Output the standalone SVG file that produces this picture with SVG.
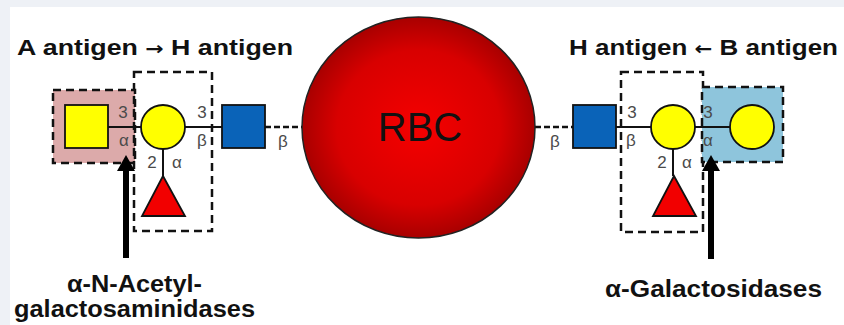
<svg xmlns="http://www.w3.org/2000/svg" width="844" height="325" viewBox="0 0 844 325">
<defs>
<radialGradient id="rbcGrad" cx="0.5" cy="0.5" r="0.5">
<stop offset="0" stop-color="#f50000"/>
<stop offset="0.7" stop-color="#d80000"/>
<stop offset="1" stop-color="#a80000"/>
</radialGradient>
<style>
.title{font-family:"Liberation Sans",Arial,sans-serif;font-weight:bold;font-size:22px;fill:#111}
.arr{font-family:"DejaVu Sans",sans-serif;font-weight:bold;font-size:18px}
.enz{font-family:"Liberation Sans",Arial,sans-serif;font-weight:bold;font-size:23px;fill:#111;text-anchor:middle}
.lbl{font-family:"Liberation Sans",Arial,sans-serif;font-size:17px;fill:#4a4a4a;text-anchor:middle}
.box{stroke:#111;stroke-width:2.5;stroke-dasharray:8 5}
.sym{stroke:#111;stroke-width:1.8}
.bond{stroke:#111;stroke-width:2;fill:none}
.dbond{stroke:#111;stroke-width:2.5;stroke-dasharray:6 3;fill:none}
.gal{fill:#ffff00}
.glcnac{fill:#0a63b8}
.galnac{fill:#ffff00}
.fuc{fill:#f20000}
</style>
</defs>
<rect x="0" y="0" width="844" height="325" fill="#eef1f6"/>
<rect x="10" y="7" width="834" height="318" fill="#ffffff"/>

<g id="title-left"><text class="title" x="17" y="55" textLength="276" lengthAdjust="spacingAndGlyphs">A antigen <tspan class="arr">→</tspan> H antigen</text></g>
<g id="title-right"><text class="title" x="569" y="55" textLength="269" lengthAdjust="spacingAndGlyphs">H antigen <tspan class="arr">←</tspan> B antigen</text></g>

<g id="box-a-left"><rect class="box" x="53" y="90" width="82" height="73" fill="#dcaaaa"/></g>
<g id="box-h-left"><rect class="box" x="134" y="72" width="78" height="159" fill="none"/></g>
<g id="box-h-right"><rect class="box" x="621" y="72" width="82" height="160" fill="none"/></g>
<g id="box-b-right"><rect class="box" x="702" y="87" width="81" height="75" fill="#8ec5dc"/></g>

<g id="connectors">
<line class="bond" x1="108" y1="127" x2="141" y2="127"/>
<line class="bond" x1="185" y1="127" x2="222" y2="127"/>
<line class="bond" x1="163" y1="149" x2="163" y2="176"/>
<line class="dbond" x1="265" y1="127" x2="302" y2="127"/>
<line class="dbond" x1="535" y1="127" x2="573" y2="127"/>
<line class="bond" x1="616" y1="127" x2="651" y2="127"/>
<line class="bond" x1="695" y1="127" x2="730" y2="127"/>
<line class="bond" x1="673" y1="149" x2="673" y2="176"/>
</g>

<g id="rbc">
<ellipse cx="418.5" cy="127.5" rx="116.5" ry="110.5" fill="url(#rbcGrad)" stroke="#222" stroke-width="1.5"/>
<text x="420" y="141" font-family="'Liberation Sans',Arial,sans-serif" font-size="40" fill="#111" text-anchor="middle">RBC</text>
</g>

<g id="galnac-left"><rect class="sym galnac" x="65" y="105" width="43" height="43"/></g>
<g id="gal-left"><circle class="sym gal" cx="163" cy="127" r="22"/></g>
<g id="fuc-left"><polygon class="sym fuc" points="163,176 142,216 185,216"/></g>
<g id="glcnac-left"><rect class="sym glcnac" x="222" y="105" width="43" height="43"/></g>

<g id="glcnac-right"><rect class="sym glcnac" x="573" y="105" width="43" height="43"/></g>
<g id="gal-right"><circle class="sym gal" cx="673" cy="127" r="22"/></g>
<g id="fuc-right"><polygon class="sym fuc" points="674,176 653,216 696,216"/></g>
<g id="gal-b-right"><circle class="sym gal" cx="752" cy="127" r="22"/></g>

<g id="labels">
<text class="lbl" x="123" y="118">3</text>
<text class="lbl" x="124" y="146">α</text>
<text class="lbl" x="202" y="118">3</text>
<text class="lbl" x="202" y="146">β</text>
<text class="lbl" x="152" y="168">2</text>
<text class="lbl" x="177" y="168">α</text>
<text class="lbl" x="283" y="147">β</text>
<text class="lbl" x="555" y="147">β</text>
<text class="lbl" x="632" y="118">3</text>
<text class="lbl" x="631" y="146">β</text>
<text class="lbl" x="662" y="168">2</text>
<text class="lbl" x="687" y="168">α</text>
<text class="lbl" x="708" y="118">3</text>
<text class="lbl" x="708" y="146">α</text>
</g>

<g id="arrow-left">
<rect x="123" y="168" width="6" height="90" fill="#000"/>
<polygon points="126,155 117,171 135,171" fill="#000"/>
</g>
<g id="arrow-right">
<rect x="708" y="168" width="6" height="91" fill="#000"/>
<polygon points="711,155 702,171 720,171" fill="#000"/>
</g>

<g id="enzyme-left">
<text class="enz" x="134.5" y="292" textLength="135" lengthAdjust="spacingAndGlyphs">α-N-Acetyl-</text>
<text class="enz" x="134.5" y="317" textLength="241" lengthAdjust="spacingAndGlyphs">galactosaminidases</text>
</g>
<g id="enzyme-right">
<text class="enz" x="713.5" y="297" textLength="217" lengthAdjust="spacingAndGlyphs">α-Galactosidases</text>
</g>
</svg>
